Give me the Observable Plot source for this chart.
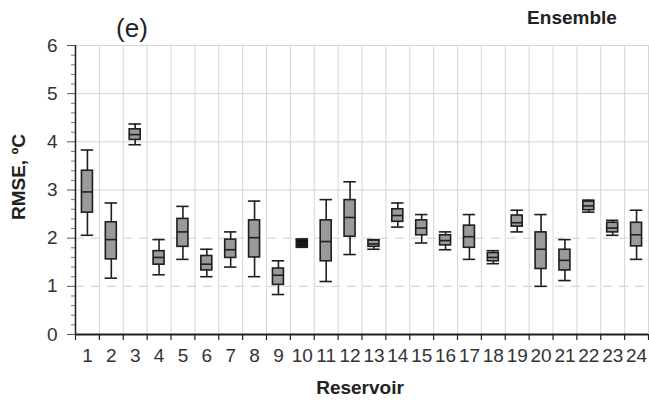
<!DOCTYPE html>
<html>
<head>
<meta charset="utf-8">
<script src="https://cdn.jsdelivr.net/npm/d3@7"></script>
<script src="https://cdn.jsdelivr.net/npm/@observablehq/plot@0.6"></script>
<style>
  html, body { margin: 0; padding: 0; background: #fff; }
  #wrap { position: relative; width: 649px; height: 401px; font-family: "Liberation Sans", Arial, sans-serif; }
  .ov { position: absolute; white-space: nowrap; color: #222; }
</style>
</head>
<body>
<div id="wrap">
  <div class="ov" id="panel" style="left:132px; top:28px; transform:translate(-50%,-50%); font-size:26px;">(e)</div>
  <div class="ov" id="ens" style="left:572px; top:18px; transform:translate(-50%,-50%); font-size:19px; font-weight:bold;">Ensemble</div>
  <div class="ov" id="ylab" style="left:19px; top:177px; transform:translate(-50%,-50%) rotate(-90deg); font-size:19px; font-weight:bold;">RMSE, ºC</div>
  <div class="ov" id="xlab" style="left:360px; top:388px; transform:translate(-50%,-50%); font-size:19px; font-weight:bold;">Reservoir</div>
</div>
<script>
const reservoirs = d3.range(1, 25);
const whiskerLow  = [2.06, 1.17, 3.94, 1.24, 1.56, 1.20, 1.40, 1.20, 0.83, 1.81, 1.10, 1.66, 1.77, 2.23, 1.90, 1.76, 1.56, 1.47, 2.13, 1.00, 1.12, 2.54, 2.06, 1.56];
const quart1      = [2.53, 1.56, 4.04, 1.45, 1.82, 1.33, 1.59, 1.60, 1.03, 1.82, 1.52, 2.03, 1.82, 2.34, 2.06, 1.85, 1.80, 1.52, 2.24, 1.36, 1.33, 2.58, 2.12, 1.83];
const median      = [2.96, 1.97, 4.15, 1.60, 2.13, 1.46, 1.76, 2.01, 1.23, 1.90, 1.93, 2.43, 1.88, 2.47, 2.21, 1.95, 2.03, 1.60, 2.32, 1.77, 1.54, 2.67, 2.21, 2.07];
const quart3      = [3.40, 2.33, 4.26, 1.73, 2.40, 1.63, 1.97, 2.37, 1.37, 1.97, 2.37, 2.79, 1.95, 2.60, 2.37, 2.06, 2.26, 1.69, 2.47, 2.12, 1.76, 2.76, 2.32, 2.32];
const whiskerHigh = [3.83, 2.73, 4.37, 1.97, 2.66, 1.77, 2.13, 2.77, 1.53, 1.98, 2.80, 3.17, 1.97, 2.73, 2.49, 2.13, 2.49, 1.74, 2.58, 2.49, 1.97, 2.79, 2.37, 2.58];
const yMajorTicks = [0, 1, 2, 3, 4, 5, 6];

const data = reservoirs.map((r, i) => ({
  r, lo: whiskerLow[i], q1: quart1[i], med: median[i], q3: quart3[i], hi: whiskerHigh[i]
}));

const boundaries = d3.range(0, 25).map(d => d + 0.5);
const minorTicks = d3.range(0, 31).map(d => d / 5).filter(d => Math.abs(d - Math.round(d)) > 1e-6);
const capHalf = 0.26, boxHalf = 0.23;
const dark = "#1e1e1e";

const chart = Plot.plot({
  width: 649,
  height: 401,
  marginLeft: 75,
  marginRight: 1,
  marginTop: 45,
  marginBottom: 67,
  style: { fontFamily: "'Liberation Sans', Arial, sans-serif", background: "#fff", color: "#333" },
  x: { domain: [0.5, 24.5], axis: null },
  y: { domain: [0, 6], axis: null },
  marks: [
    Plot.ruleY(yMajorTicks.filter(d => d >= 3), { stroke: "#d6d6d6", strokeWidth: 1 }),
    Plot.ruleY([1, 2], { stroke: "#cfcfcf", strokeWidth: 1, strokeDasharray: "9,7" }),
    Plot.ruleX(boundaries.slice(1), { stroke: "#d6d6d6", strokeWidth: 1 }),
    // y axis
    Plot.axisY({ ticks: yMajorTicks, tickSize: 8, tickPadding: 10, fontSize: 19, tickFormat: d => String(d), label: null, stroke: "#555", color: "#333" }),
    Plot.axisY({ ticks: minorTicks, tickSize: 4, tickFormat: () => "", label: null, stroke: "#777" }),
    Plot.ruleX([0.5], { stroke: dark, strokeWidth: 1.5 }),
    // x axis
    Plot.axisX({ ticks: boundaries, tickSize: 6, tickFormat: () => "", label: null, stroke: dark, strokeWidth: 1.2 }),
    Plot.axisX({ ticks: reservoirs, tickSize: 0, tickPadding: 14, fontSize: 19, tickFormat: d => String(d), label: null, color: "#333" }),
    Plot.ruleY([0], { stroke: dark, strokeWidth: 1.8 }),
    // whiskers
    Plot.ruleX(data, { x: "r", y1: "lo", y2: "hi", stroke: dark, strokeWidth: 1.6 }),
    Plot.ruleY(data, { y: "lo", x1: d => d.r - capHalf, x2: d => d.r + capHalf, stroke: dark, strokeWidth: 1.6 }),
    Plot.ruleY(data, { y: "hi", x1: d => d.r - capHalf, x2: d => d.r + capHalf, stroke: dark, strokeWidth: 1.6 }),
    // boxes
    Plot.rect(data, {
      x1: d => d.r - boxHalf, x2: d => d.r + boxHalf, y1: "q1", y2: "q3",
      fill: d => (d.r === 10 ? "#111" : "#9a9a9a"), stroke: dark, strokeWidth: 1.6
    }),
    Plot.ruleY(data, { y: "med", x1: d => d.r - boxHalf, x2: d => d.r + boxHalf, stroke: dark, strokeWidth: 1.6 })
  ]
});
document.getElementById("wrap").prepend(chart);
chart.style.position = "absolute";
chart.style.left = "0px";
chart.style.top = "0px";
</script>
</body>
</html>
